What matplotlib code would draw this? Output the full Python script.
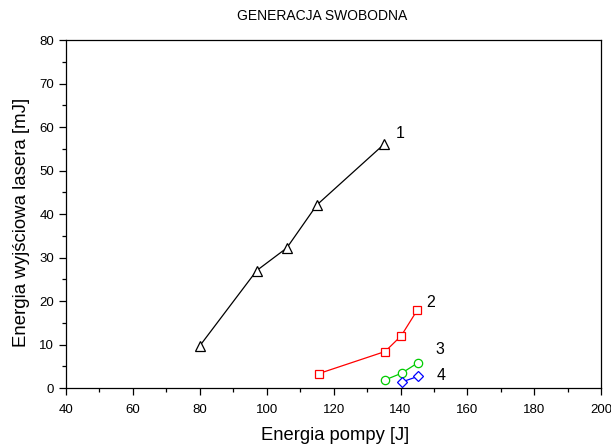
import matplotlib
matplotlib.use('Agg')
import matplotlib.pyplot as plt
from matplotlib.ticker import MultipleLocator

plt.rcParams['font.family'] = ['Liberation Sans', 'DejaVu Sans']

# energia pompy [J] / energia wyjsciowa [mJ] dla czterech serii
x1 = [80, 97, 106, 115, 135]
y1 = [9.7, 27, 32.2, 42.1, 56]
x2 = [115.5, 135.4, 140.2, 145]
y2 = [3.3, 8.4, 12, 17.9]
x3 = [135.5, 140.3, 145.2]
y3 = [1.9, 3.4, 5.8]
x4 = [140.4, 145.3]
y4 = [1.4, 2.7]
labels = ['1', '2', '3', '4']
label_pos = [(140, 58.5), (149, 19.7), (151.8, 8.8), (152, 2.8)]

fig = plt.figure(figsize=(6.11, 4.45), dpi=100)
ax = fig.add_axes([0.108, 0.128, 0.876, 0.782])

ax.plot(x1, y1, color='black', lw=0.9, marker='^', ms=7, mfc='white', mec='black', mew=0.9)
ax.plot(x2, y2, color='red', lw=0.9, marker='s', ms=6, mfc='white', mec='red', mew=0.9)
ax.plot(x3, y3, color='#00cc00', lw=0.9, marker='o', ms=6, mfc='white', mec='#00cc00', mew=0.9)
ax.plot(x4, y4, color='blue', lw=0.9, marker='D', ms=5, mfc='white', mec='blue', mew=0.9)

for t, (px, py) in zip(labels, label_pos):
    ax.text(px, py, t, fontsize=11.5, ha='center', va='center')

ax.set_xlim(40, 200)
ax.set_ylim(0, 80)
ax.xaxis.set_major_locator(MultipleLocator(20))
ax.xaxis.set_minor_locator(MultipleLocator(10))
ax.yaxis.set_major_locator(MultipleLocator(10))
ax.yaxis.set_minor_locator(MultipleLocator(5))
ax.tick_params(which='major', direction='out', length=5, width=0.9, labelsize=9.5)
ax.tick_params(axis='x', which='major', pad=6.5)
ax.tick_params(which='minor', direction='out', length=3, width=0.9)
for s in ax.spines.values():
    s.set_linewidth(0.9)

ax.set_xlabel('Energia pompy [J]', fontsize=13.2)
ax.xaxis.set_label_coords(0.503, -0.113)
ax.set_ylabel('Energia wyjściowa lasera [mJ]', fontsize=13.4)
ax.yaxis.set_label_coords(-0.068, 0.477)
fig.text(0.527, 0.963, 'GENERACJA SWOBODNA', ha='center', va='center', fontsize=10)

fig.savefig('out.png', dpi=100)
